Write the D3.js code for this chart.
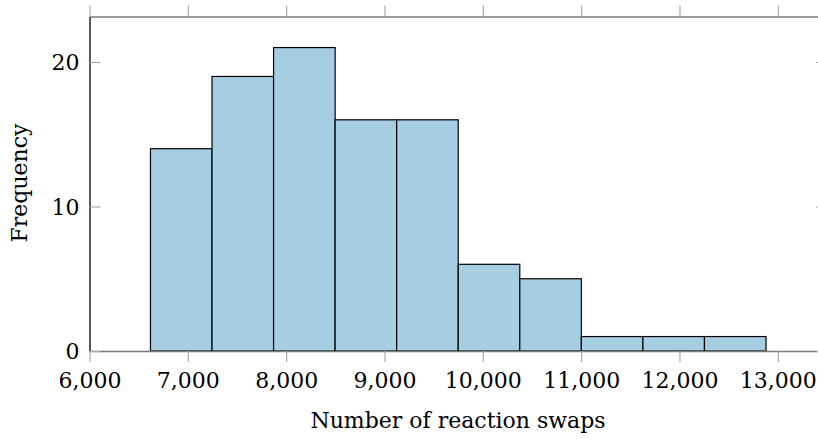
<!DOCTYPE html>
<html><head><meta charset="utf-8">
<script src="https://cdn.jsdelivr.net/npm/d3@7"></script>
<style>
body{margin:0;background:#fff;}
text{font-family:"DejaVu Serif",serif;fill:#000;}
</style></head>
<body><svg id="c" width="818" height="439"></svg>
<script>
const binEdges = [6620, 7246, 7872, 8498, 9124, 9750, 10376, 11002, 11628, 12254, 12880];
const frequencies = [14, 19, 21, 16, 16, 6, 5, 1, 1, 1];
const xTicks = [6000, 7000, 8000, 9000, 10000, 11000, 12000, 13000];
const yTicks = [0, 10, 20];
const xTitle = "Number of reaction swaps";
const yTitle = "Frequency";

const svg = d3.select("#c");
const x = d3.scaleLinear().domain([6000, 13490]).range([89.5, 826]);
const y = d3.scaleLinear().domain([0, 23.15]).range([351, 16.5]);

const bins = frequencies.map((f,i)=>({x0:binEdges[i], x1:binEdges[i+1], f}));
svg.append("g").selectAll("rect").data(bins).join("rect")
  .attr("x", d=>x(d.x0)).attr("y", d=>y(d.f))
  .attr("width", d=>x(d.x1)-x(d.x0)).attr("height", d=>y(0)-y(d.f))
  .attr("fill", "#a6cee3").attr("stroke", "#000").attr("stroke-width", 1.2);

const gray = "#7a7a7a";
const fs = 22;
// bottom axis
const gb = svg.append("g").attr("transform", `translate(0,${y(0)})`)
  .call(d3.axisBottom(x).tickValues(xTicks).tickFormat(d3.format(",")).tickSize(11).tickSizeOuter(0));
gb.select(".domain").attr("stroke", gray).attr("stroke-width", 1.6);
gb.selectAll(".tick line").attr("stroke", "#aaa").attr("stroke-width", 1.2);
gb.selectAll(".tick text").attr("font-size", fs).attr("font-family","DejaVu Serif").attr("dy", "0").attr("y", 37);

// top axis
const gt = svg.append("g").attr("transform", `translate(0,${y(23.15)})`)
  .call(d3.axisTop(x).tickValues(xTicks).tickFormat("").tickSize(11).tickSizeOuter(0));
gt.select(".domain").attr("stroke", gray).attr("stroke-width", 1.6);
gt.selectAll(".tick line").attr("stroke", "#aaa").attr("stroke-width", 1.2);

// left axis
const gl = svg.append("g").attr("transform", `translate(${x(6000)},0)`)
  .call(d3.axisLeft(y).tickValues(yTicks).tickSize(-11).tickSizeOuter(0).tickPadding(10));
gl.select(".domain").attr("stroke", "#000").attr("stroke-width", 1.3);
gl.selectAll(".tick line").attr("stroke", "#aaa").attr("stroke-width", 1.2);
gl.selectAll(".tick text").attr("font-size", fs).attr("font-family","DejaVu Serif").attr("x", -10).attr("dy","0.36em");

// right axis (mostly off canvas)
const gr = svg.append("g").attr("transform", `translate(${x(13490)},0)`)
  .call(d3.axisRight(y).tickValues(yTicks).tickFormat("").tickSize(-10).tickSizeOuter(0));
gr.select(".domain").attr("stroke", "#000").attr("stroke-width", 1.3);
gr.selectAll(".tick line").attr("stroke", "#aaa").attr("stroke-width", 1.2);

svg.append("text").attr("x", 458).attr("y", 428).attr("text-anchor","middle")
  .attr("font-size", fs).text(xTitle);
svg.append("text").attr("transform", "translate(27,183) rotate(-90)").attr("text-anchor","middle")
  .attr("font-size", fs).text(yTitle);
</script></body></html>
